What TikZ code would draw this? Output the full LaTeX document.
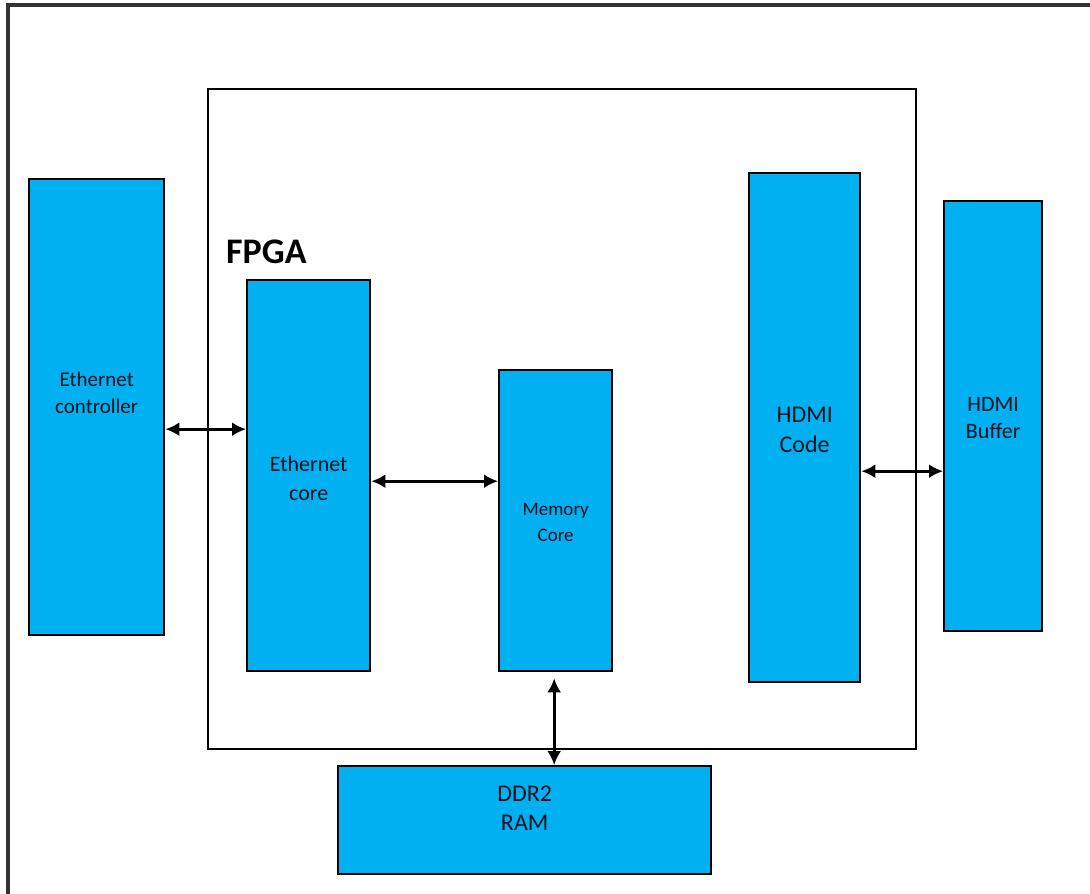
\documentclass[tikz,border=0pt]{standalone}
\usepackage{fontspec}
\setmainfont{Carlito}
\usetikzlibrary{arrows.meta}
\definecolor{blockblue}{RGB}{0,176,240}
\definecolor{blocktext}{RGB}{8,18,32}
\tikzset{
  blk/.style={draw=black, fill=blockblue, line width=2.4pt, inner sep=0pt,
    anchor=north west, text=blocktext, align=center},
  frameline/.style={draw=black, line width=2.2pt},
  biarrow/.style={line width=2.6pt, {Latex[length=14pt,width=14pt]}-{Latex[length=14pt,width=14pt]}},
}
\begin{document}
\begin{tikzpicture}[x=1pt, y=-1pt]
\useasboundingbox (0,0) rectangle (1090,894);

% outer frame (open at right and bottom)
\draw[draw=black!80, line width=3.2pt] (8,894) -- (8,5) -- (1090,5);

% FPGA boundary and title
\node[frameline, anchor=north west, minimum width=708pt, minimum height=660pt, inner sep=0pt] (fpga) at (207,88) {};
\node[anchor=west, font=\fontsize{36}{42}\selectfont\bfseries, inner sep=0pt] (fpgalabel) at (226,252) {FPGA};

% blocks
\node[blk, minimum width=135pt, minimum height=456pt,
  label={[yshift=14pt, text=blocktext, align=center, font=\fontsize{21}{27}\selectfont]center:Ethernet\\controller}] (ec) at (28,178) {};
\node[blk, minimum width=123pt, minimum height=391pt,
  label={[yshift=-3pt, text=blocktext, align=center, font=\fontsize{22}{29}\selectfont]center:Ethernet\\core}] (core) at (246,279) {};
\node[blk, minimum width=113pt, minimum height=301pt,
  label={[yshift=-2pt, text=blocktext, align=center, font=\fontsize{19}{26}\selectfont]center:Memory\\Core}] (mem) at (498,369) {};
\node[blk, minimum width=111pt, minimum height=509pt,
  label={[yshift=-2pt, text=blocktext, align=center, font=\fontsize{24}{30}\selectfont]center:HDMI\\Code}] (hcode) at (748,172) {};
\node[blk, minimum width=98pt, minimum height=430pt,
  label={[yshift=-2pt, text=blocktext, align=center, font=\fontsize{22}{27}\selectfont]center:HDMI\\Buffer}] (hbuf) at (943,200) {};
\node[blk, minimum width=373pt, minimum height=108pt,
  label={[yshift=12pt, text=blocktext, align=center, font=\fontsize{24}{29}\selectfont]center:DDR2\\RAM}] (ddr) at (337,765) {};

% connectors
\draw[biarrow] ([yshift=-22pt]ec.east) coordinate (a1) -- (a1 -| core.west);
\draw[biarrow] ([yshift=-5.5pt]core.east) coordinate (a2) -- (a2 -| mem.west);
\draw[biarrow] ([yshift=-43.5pt]hcode.east) coordinate (a3) -- (a3 -| hbuf.west);
\draw[biarrow] ([xshift=-1.5pt,yshift=-6pt]mem.south) coordinate (a4) -- (a4 |- ddr.north);
\end{tikzpicture}
\end{document}
